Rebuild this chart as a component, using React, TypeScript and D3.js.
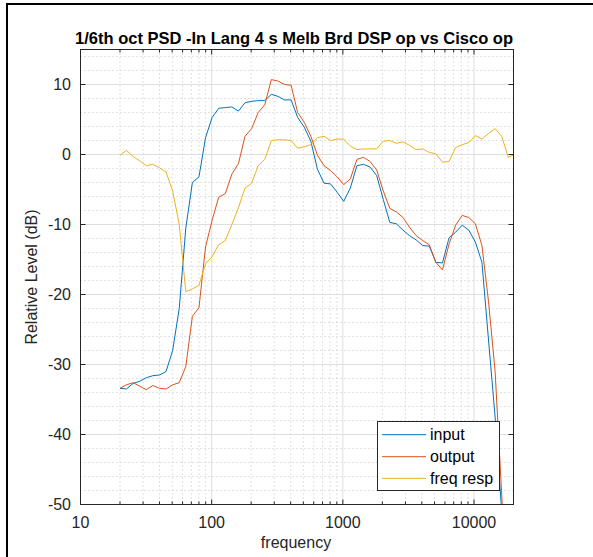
import * as d3 from "d3";

// 1/6 octave band centres (Hz)
const freqs = [
  20, 22.4, 25.2, 28.3, 31.7, 35.6, 40, 44.9, 50.4, 56.6, 63.5, 71.3, 80, 89.8, 100.8, 113.1, 127, 142.5, 160, 179.6,
  201.6, 226.3, 254, 285.1, 320, 359.2, 403.2, 452.5, 508, 570.2, 640, 718.4, 806.3, 905.1, 1016, 1140, 1280, 1437,
  1613, 1810, 2032, 2281, 2560, 2874, 3225, 3620, 4064, 4561, 5120, 5747, 6451, 7241, 8128, 9123, 10240, 11494,
  12902, 14482, 16255, 18246, 20480,
];

const inputLevel = [
  -33.4, -33.5, -32.7, -32.4, -31.9, -31.6, -31.5, -31.0, -28.0, -22.0, -10.5, -4.0, -3.2, 2.4, 5.3, 6.6, 6.7, 6.8,
  6.2, 7.4, 7.6, 7.7, 7.7, 8.6, 8.3, 7.8, 7.8, 5.3, 3.9, 1.9, -2.1, -4.1, -4.2, -5.4, -6.7, -4.8, -1.6, -1.4, -1.8,
  -3.0, -6.4, -9.7, -9.9, -10.8, -11.6, -12.2, -13.0, -13.1, -15.4, -15.5, -11.9, -11.1, -10.1, -10.8, -12.5, -15.4,
  -26.5, -37.5, -51, -70, -80,
];

const outputLevel = [
  -33.4, -32.9, -32.6, -33.1, -33.6, -33.0, -33.4, -33.5, -32.9, -32.6, -30.3, -23.1, -21.9, -13.2, -9.4, -6.1, -5.6,
  -2.8, -1.3, 2.6, 3.7, 6.0, 7.1, 10.7, 10.5, 10.0, 9.9, 6.0, 4.6, 2.6, -0.1, -1.6, -2.3, -3.2, -4.3, -3.5, -0.7, -0.4,
  -1.0, -2.2, -5.2, -7.7, -8.2, -9.0, -10.4, -11.6, -12.3, -12.9, -15.4, -16.5, -12.8, -10.1, -8.7, -9.0, -9.9, -13.0,
  -21.0, -31.0, -48.5, -68, -78,
];

const freqResp = [
  -0.1, 0.6, -0.3, -0.9, -1.6, -1.4, -1.9, -2.5, -5.2, -10.0, -19.6, -19.2, -18.7, -15.6, -14.6, -12.9, -12.3, -10.0,
  -7.6, -4.8, -4.1, -1.6, -0.7, 2.0, 2.1, 2.1, 2.0, 0.9, 1.1, 1.4, 2.4, 2.6, 2.0, 2.2, 2.2, 1.2, 0.7, 0.8, 0.8, 0.8,
  1.9, 2.0, 1.6, 1.8, 1.3, 0.7, 0.8, 0.3, 0.1, -1.1, -1.0, 1.0, 1.4, 1.7, 2.7, 2.2, 3.0, 3.7, 2.6, -0.4, 0.0,
];

const seriesNames = ["input", "output", "freq resp"];
const seriesColors = ["#0072bd", "#d95319", "#edb120"];
const xTicks = [10, 100, 1000, 10000];
const yTicks = [-50, -40, -30, -20, -10, 0, 10];

const FONT = "'Liberation Sans', Arial, Helvetica, sans-serif";
const INK = "#262626";

export default function App() {
  const W = 593;
  const H = 557;
  const ax = { left: 80.5, right: 513.5, top: 49.5, bottom: 504.5 };

  const x = d3.scaleLog().domain([10, 20000]).range([ax.left, ax.right]);
  const y = d3.scaleLinear().domain([-50, 15]).range([ax.bottom, ax.top]);

  const xMinor: number[] = [];
  [10, 100, 1000, 10000].forEach((d) => {
    for (let k = 2; k <= 9; k++) if (k * d <= 20000) xMinor.push(k * d);
  });
  const yMinor = d3.range(-48, 16, 2).filter((v) => v % 10 !== 0);
  const yMajorGrid = yTicks.filter((v) => v > -50);
  const xMajorGrid = xTicks.filter((v) => v > 10);

  const line = d3
    .line<number>()
    .x((_, i) => x(freqs[i]))
    .y((d) => y(d));
  const series = [inputLevel, outputLevel, freqResp];

  const leg = { left: 377.5, right: 499.5, top: 421.5, bottom: 490.5 };
  const legRows = [434.7, 456.7, 478.3];

  return (
    <div style={{ position: "fixed", left: 0, top: 0 }}>
      <svg width={W} height={H} style={{ display: "block", background: "#fff" }} fontFamily={FONT}>
        <defs>
          <clipPath id="plotArea">
            <rect x={ax.left} y={ax.top} width={ax.right - ax.left} height={ax.bottom - ax.top} />
          </clipPath>
        </defs>
        {/* figure frame */}
        <line x1={7} y1={4} x2={7} y2={H} stroke="#000" strokeWidth={2} />
        <line x1={6} y1={4} x2={W} y2={4} stroke="#000" strokeWidth={2} />

        {/* minor grid */}
        {xMinor.map((v) => (
          <line key={"xm" + v} x1={x(v)} x2={x(v)} y1={ax.top} y2={ax.bottom} stroke="#c4c4c4" strokeDasharray="1 3" />
        ))}
        {yMinor.map((v) => (
          <line key={"ym" + v} x1={ax.left} x2={ax.right} y1={y(v)} y2={y(v)} stroke="#c4c4c4" strokeDasharray="1 3" />
        ))}
        {/* major grid */}
        {xMajorGrid.map((v) => (
          <line key={"xg" + v} x1={x(v)} x2={x(v)} y1={ax.top} y2={ax.bottom} stroke="#dedede" />
        ))}
        {yMajorGrid.map((v) => (
          <line key={"yg" + v} x1={ax.left} x2={ax.right} y1={y(v)} y2={y(v)} stroke="#dedede" />
        ))}

        {/* data */}
        <g clipPath="url(#plotArea)">
          {series.map((s, i) => (
            <path key={i} d={line(s) ?? ""} fill="none" stroke={seriesColors[i]} strokeWidth={1} strokeLinejoin="round" />
          ))}
        </g>

        {/* axes box and ticks */}
        <rect
          x={ax.left}
          y={ax.top}
          width={ax.right - ax.left}
          height={ax.bottom - ax.top}
          fill="none"
          stroke={INK}
          strokeWidth={1}
        />
        {xMinor.map((v) => (
          <g key={"xt" + v} stroke={INK}>
            <line x1={x(v)} x2={x(v)} y1={ax.bottom} y2={ax.bottom - 3} />
            <line x1={x(v)} x2={x(v)} y1={ax.top} y2={ax.top + 3} />
          </g>
        ))}
        {xTicks.map((v) => (
          <g key={"xT" + v}>
            <line x1={x(v)} x2={x(v)} y1={ax.bottom} y2={ax.bottom - 5} stroke={INK} />
            <line x1={x(v)} x2={x(v)} y1={ax.top} y2={ax.top + 5} stroke={INK} />
            <text x={x(v)} y={527.7} textAnchor="middle" fontSize={16} fill={INK}>
              {v}
            </text>
          </g>
        ))}
        {yTicks.map((v) => (
          <g key={"yT" + v}>
            <line x1={ax.left} x2={ax.left + 5} y1={y(v)} y2={y(v)} stroke={INK} />
            <line x1={ax.right} x2={ax.right - 5} y1={y(v)} y2={y(v)} stroke={INK} />
            <text x={71} y={y(v) + 5.6} textAnchor="end" fontSize={16} fill={INK}>
              {v}
            </text>
          </g>
        ))}

        {/* labels */}
        <text x={294} y={43.5} textAnchor="middle" fontSize={16.5} fontWeight="bold" fill="#000">
          1/6th oct PSD -In Lang 4 s Melb Brd DSP op vs Cisco op
        </text>
        <text x={296} y={548.3} textAnchor="middle" fontSize={16} fill={INK}>
          frequency
        </text>
        <text
          transform={`translate(37,${(ax.top + ax.bottom) / 2}) rotate(-90)`}
          textAnchor="middle"
          fontSize={16}
          fill={INK}
        >
          Relative Level (dB)
        </text>

        {/* legend */}
        <rect
          x={leg.left}
          y={leg.top}
          width={leg.right - leg.left}
          height={leg.bottom - leg.top}
          fill="#fff"
          stroke={INK}
          strokeWidth={1}
        />
        {seriesNames.map((n, i) => (
          <g key={n}>
            <line x1={382} x2={426} y1={legRows[i]} y2={legRows[i]} stroke={seriesColors[i]} strokeWidth={1} />
            <text x={430} y={legRows[i] + 5.6} fontSize={16} fill="#000">
              {n}
            </text>
          </g>
        ))}
      </svg>
    </div>
  );
}
